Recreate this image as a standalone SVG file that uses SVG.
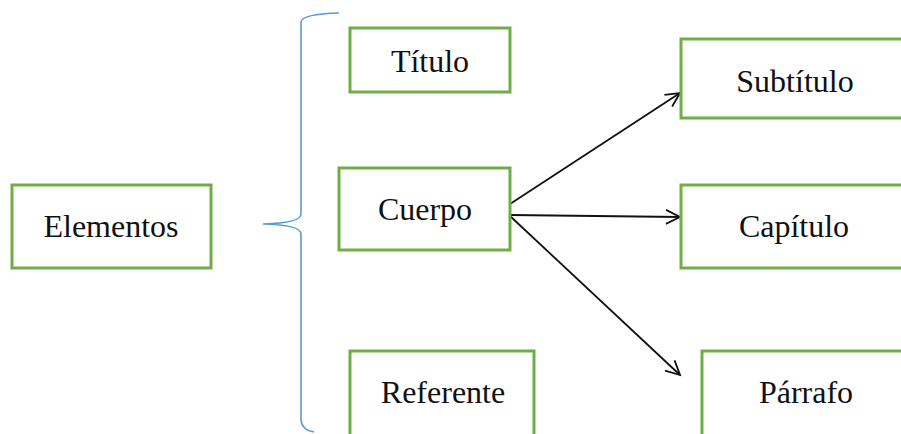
<svg xmlns="http://www.w3.org/2000/svg" width="901" height="434" viewBox="0 0 901 434">
<style>
.box{fill:#ffffff;stroke:#70ad47;stroke-width:3}
.lbl{font-family:"Liberation Serif","Times New Roman",serif;font-size:32px;fill:#111111;text-anchor:middle}
.conn{stroke:#111111;stroke-width:1.8;fill:none}
.brace{stroke:#5b9bd5;stroke-width:1.6;fill:none}
</style>
<defs>
<marker id="arr" markerUnits="userSpaceOnUse" markerWidth="18" markerHeight="18" refX="15" refY="8" orient="auto" viewBox="0 0 18 16">
<path d="M1,1 L15,8 L1,15" fill="none" stroke="#111111" stroke-width="1.8"/>
</marker>
</defs>
<rect width="901" height="434" fill="#ffffff"/>
<g id="brace">
<path class="brace" d="M339,13 Q302,14 301,22 L301,214 Q301,223 263,224 Q301,225 301,234 L301,420 Q302,430 314,432"/>
</g>
<g id="connectors">
<line class="conn" x1="510" y1="204" x2="680" y2="93" marker-end="url(#arr)"/>
<line class="conn" x1="510" y1="215" x2="680" y2="217" marker-end="url(#arr)"/>
<line class="conn" x1="510" y1="216" x2="680" y2="375" marker-end="url(#arr)"/>
</g>
<g id="elementos">
<rect class="box" x="12" y="185" width="199" height="83"/>
<text class="lbl" x="111" y="237">Elementos</text>
</g>
<g id="titulo">
<rect class="box" x="350" y="28" width="160" height="64"/>
<text class="lbl" x="430" y="72">Título</text>
</g>
<g id="cuerpo">
<rect class="box" x="339" y="168" width="171" height="82"/>
<text class="lbl" x="425" y="220">Cuerpo</text>
</g>
<g id="referente">
<rect class="box" x="350" y="351" width="184" height="100"/>
<text class="lbl" x="443" y="403">Referente</text>
</g>
<g id="subtitulo">
<rect class="box" x="681" y="39" width="240" height="79"/>
<text class="lbl" x="795" y="92">Subtítulo</text>
</g>
<g id="capitulo">
<rect class="box" x="681" y="185" width="240" height="83"/>
<text class="lbl" x="794" y="237">Capítulo</text>
</g>
<g id="parrafo">
<rect class="box" x="702" y="351" width="220" height="100"/>
<text class="lbl" x="806" y="403">Párrafo</text>
</g>
</svg>
